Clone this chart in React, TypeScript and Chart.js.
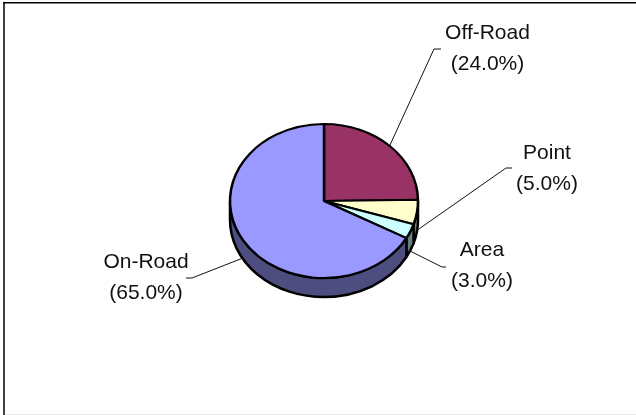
import React, { useEffect, useRef } from "react";
import { Chart, registerables } from "chart.js";

Chart.register(...registerables);

const categories = ["Off-Road", "Point", "Area", "On-Road"];
const shares = [24.0, 5.0, 3.0, 65.0];
const topColors = ["#993366", "#FFFFCC", "#CCFFFF", "#9999FF"];
const sideColors = ["#4D1A33", "#808066", "#668080", "#4D4D80"];
const labelCenters = [[487.5, 33.5], [547, 153.5], [482, 250.5], [146, 262.5]];
const leaderLines = [
  [[390, 145], [434, 49], [441, 49]],
  [[416, 231], [506, 168], [512, 168]],
  [[410, 251], [442, 267], [446, 267]],
  [[243, 258], [192, 278], [186, 278]],
];

const pieRadius = 94;
const squash = 77 / 94;
const depth = 19;

const pie3d = {
  id: "pie3d",
  beforeDatasetsDraw(chart: any) {
    const { ctx } = chart;
    const arcs = chart.getDatasetMeta(0).data;
    const cx = arcs[0].x;
    const cy = arcs[0].y;
    const rx = arcs[0].outerRadius;
    const ry = rx * squash;
    ctx.save();
    ctx.lineWidth = 2.5;
    ctx.strokeStyle = "#000";
    ctx.lineJoin = "round";
    const TAU = Math.PI * 2;
    arcs.forEach((arc: any, i: number) => {
      const ranges = [
        [arc.startAngle, arc.endAngle],
        [arc.startAngle + TAU, arc.endAngle + TAU],
        [arc.startAngle - TAU, arc.endAngle - TAU],
      ];
      ranges.forEach(([s, e]) => {
        const a0 = Math.max(s, 0);
        const a1 = Math.min(e, Math.PI);
        if (a1 <= a0) return;
        ctx.beginPath();
        ctx.ellipse(cx, cy, rx, ry, 0, a0, a1);
        ctx.ellipse(cx, cy + depth, rx, ry, 0, a1, a0, true);
        ctx.closePath();
        ctx.fillStyle = sideColors[i];
        ctx.fill();
        ctx.stroke();
      });
    });
    ctx.restore();
    ctx.save();
    ctx.translate(cx, cy);
    ctx.scale(1, squash);
    ctx.translate(-cx, -cy);
  },
  afterDatasetsDraw(chart: any) {
    const { ctx, width, height } = chart;
    ctx.restore();
    ctx.save();
    ctx.strokeStyle = "#111";
    ctx.lineWidth = 1;
    leaderLines.forEach((pts) => {
      ctx.beginPath();
      pts.forEach((p, k) => (k ? ctx.lineTo(p[0], p[1]) : ctx.moveTo(p[0], p[1])));
      ctx.stroke();
    });
    ctx.fillStyle = "#111";
    ctx.font = '21px "Liberation Sans"';
    ctx.textAlign = "center";
    ctx.textBaseline = "middle";
    categories.forEach((name, i) => {
      const [x, y] = labelCenters[i];
      ctx.fillText(name, x, y);
      ctx.fillText(`(${shares[i].toFixed(1)}%)`, x, y + 30.5);
    });
    ctx.fillStyle = "#404040";
    ctx.fillRect(3, 2, 2, height - 2);
    ctx.fillStyle = "#000";
    ctx.fillRect(3, 2, width - 3, 1.5);
    ctx.fillStyle = "#e8e8e8";
    ctx.fillRect(5, height - 1, width - 5, 1);
    ctx.restore();
  },
};

export default function App() {
  const ref = useRef<HTMLCanvasElement>(null);
  useEffect(() => {
    const chart = new Chart(ref.current!, {
      type: "pie",
      data: {
        labels: categories,
        datasets: [
          {
            data: shares,
            backgroundColor: topColors,
            borderColor: "#000",
            borderWidth: 2.5,
            borderAlign: "center",
            radius: pieRadius,
            clip: false,
          } as any,
        ],
      },
      options: {
        responsive: false,
        animation: false,
        rotation: 0,
        layout: { padding: { left: 12, right: 0, top: 0, bottom: 13 } },
        plugins: { legend: { display: false }, tooltip: { enabled: false } },
      },
      plugins: [pie3d],
    });
    return () => chart.destroy();
  }, []);
  return (
    <div style={{ position: "fixed", left: 0, top: 0, background: "#fff" }}>
      <canvas ref={ref} width={636} height={415} style={{ display: "block" }} />
    </div>
  );
}
